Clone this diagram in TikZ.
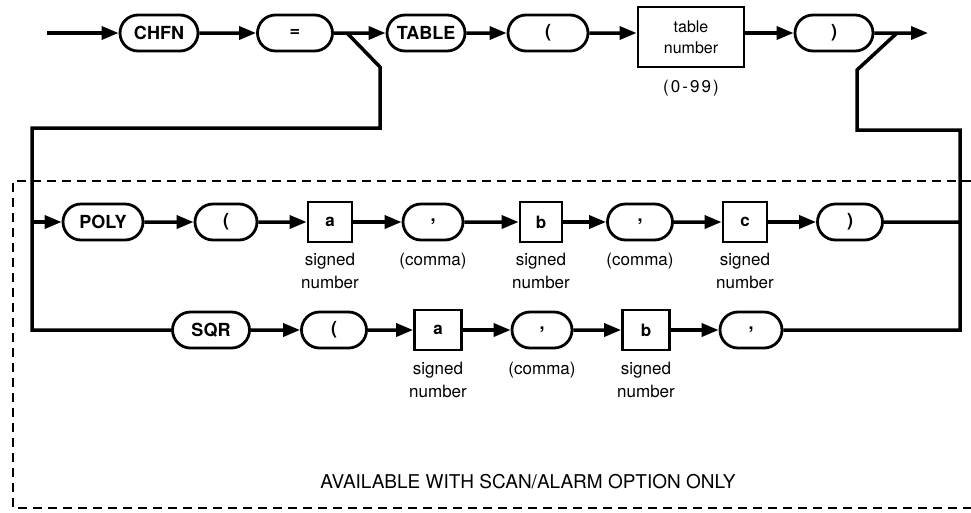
\documentclass[tikz,border=0pt]{standalone}
\usepackage{fontspec}
\setmainfont{TeX Gyre Heros}
\usepackage{tikz}
\usetikzlibrary{positioning,arrows.meta,shapes.misc}

\begin{document}
\begin{tikzpicture}[x=1pt,y=-1pt,
  kw/.style={draw,rounded rectangle,line width=2.8pt,minimum width=#1,
             minimum height=36pt,inner sep=0pt,
             font=\fontsize{18}{20}\selectfont\bfseries},
  valbox/.style={draw,line width=2.8pt,minimum width=#1,minimum height=40pt,
                 inner sep=0pt,font=\fontsize{17}{20}\selectfont\bfseries},
  note/.style={align=center,anchor=north,inner sep=0pt,
               font=\fontsize{17}{23}\selectfont},
  arrow/.style={-{Triangle[length=17pt,width=13pt]},line width=3.5pt},
  wire/.style={line width=3.5pt}
]
  \useasboundingbox (0,0) rectangle (971,512);
  % optional part
  \draw[line width=2.8pt,dash pattern=on 9pt off 6pt]
    (971,181) -- (13,181) -- (13,508) -- (971,508);
  \node[inner sep=0pt,font=\fontsize{19}{22}\selectfont] (option) at (528,482)
    {AVAILABLE WITH SCAN/ALARM OPTION ONLY};

  % main line
  \coordinate (start) at (47,33);
  \node[kw=78] (chfn) at (159,33) {CHFN};
  \node[kw=75] (equals) at (295,33) {=};
  \node[kw=78] (table) at (426,33) {TABLE};
  \node[kw=80] (lpar) at (548,33) {(};
  \node[draw,line width=2.8pt,minimum width=106pt,minimum height=60pt,
        align=center,font=\fontsize{16}{21}\selectfont] (tabnum) at (691,37)
    {table\\number};
  \node[inner sep=0pt,font=\fontsize{17}{20}\selectfont] (range) at (691,88)
    {\addfontfeature{LetterSpace=12}(0-99)};
  \node[kw=78] (rpar) at (834,33) {)};
  \coordinate (exit) at (928,33);

  \draw[arrow] (start) -- (chfn);
  \draw[arrow] (chfn) -- (equals);
  \draw[arrow] (equals) -- (table);
  \draw[arrow] (table) -- (lpar);
  \draw[arrow] (lpar) -- (lpar -| tabnum.west);
  \draw[arrow] (rpar -| tabnum.east) -- (rpar);
  \draw[arrow] (rpar) -- (exit);

  % POLY line
  \node[kw=80] (poly) at (103,222) {POLY};
  \node[kw=62] (plpar) at (226,222) {(};
  \node[valbox=44] (pa) at (330,222) {a};
  \node[kw=60] (pcomma1) at (433,222) {,};
  \node[valbox=42] (pb) at (541,222) {b};
  \node[kw=65] (pcomma2) at (640,222) {,};
  \node[valbox=44] (pc) at (745,222) {c};
  \node[kw=65] (prpar) at (850,222) {)};
  \node[note] (panote) at (330,253) {signed\\number};
  \node[note] (pc1note) at (433,253) {(comma)};
  \node[note] (pbnote) at (541,253) {signed\\number};
  \node[note] (pc2note) at (640,253) {(comma)};
  \node[note] (pcnote) at (745,253) {signed\\number};

  \draw[arrow] (poly) -- (plpar);
  \draw[arrow] (plpar) -- (pa);
  \draw[arrow] (pa) -- (pcomma1);
  \draw[arrow] (pcomma1) -- (pb);
  \draw[arrow] (pb) -- (pcomma2);
  \draw[arrow] (pcomma2) -- (pc);
  \draw[arrow] (pc) -- (prpar);

  % SQR line
  \node[kw=77] (sqr) at (211,330) {SQR};
  \node[kw=65] (slpar) at (334,330) {(};
  \node[valbox=47] (sa) at (438,330) {a};
  \node[kw=60] (scomma1) at (542,330) {,};
  \node[valbox=47] (sb) at (646,330) {b};
  \node[kw=62] (scomma2) at (751,330) {,};
  \node[note] (sanote) at (438,362) {signed\\number};
  \node[note] (scnote) at (542,362) {(comma)};
  \node[note] (sbnote) at (646,362) {signed\\number};

  \draw[arrow] (sqr) -- (slpar);
  \draw[arrow] (slpar) -- (sa);
  \draw[arrow] (sa) -- (scomma1);
  \draw[arrow] (scomma1) -- (sb);
  \draw[arrow] (sb) -- (scomma2);

  % branches
  \coordinate (eqfork) at (347,33);
  \coordinate (eqbend) at (380,67);
  \coordinate (eqdrop) at (380,128);
  \coordinate (leftturn) at (32,128);
  \coordinate (leftpoly) at (32,222);
  \coordinate (leftsqr) at (32,330);
  \coordinate (exitfork) at (897,33);
  \coordinate (exitbend) at (857,70);
  \coordinate (exitdrop) at (857,130);
  \coordinate (rightturn) at (960,130);
  \coordinate (rightpoly) at (960,222);
  \coordinate (rightsqr) at (960,330);

  \draw[wire] (eqfork) -- (eqbend) -- (eqdrop) -- (leftturn) -- (leftsqr) -- (sqr);
  \draw[arrow] (leftpoly) -- (poly);
  \draw[wire] (exitfork) -- (exitbend) -- (exitdrop) -- (rightturn) -- (rightsqr) -- (scomma2);
  \draw[wire] (prpar) -- (rightpoly);
\end{tikzpicture}
\end{document}
